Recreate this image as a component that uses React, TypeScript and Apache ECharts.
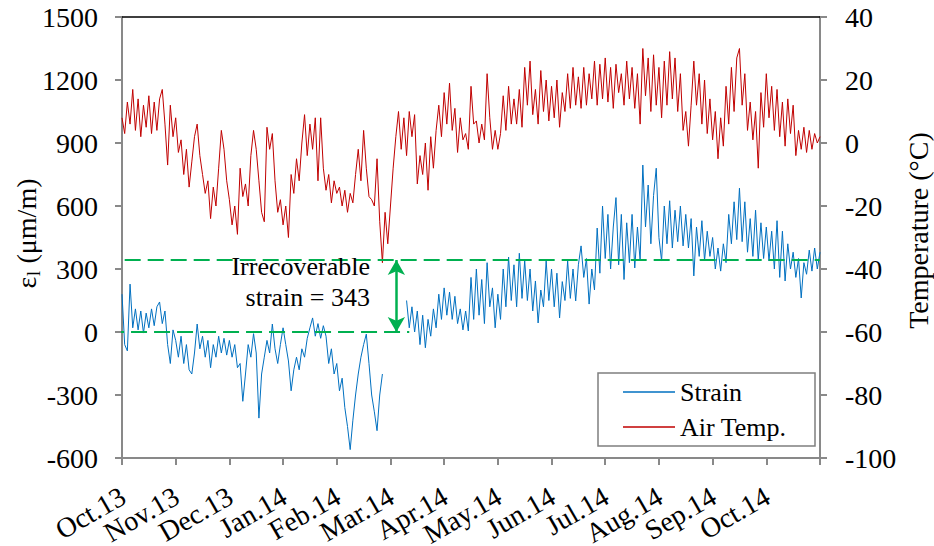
import React, { useEffect, useRef } from "react";
import * as echarts from "echarts";

// Month tick labels (one per month, x axis in months since Oct 2013)
const MONTHS = ["Oct.13", "Nov.13", "Dec.13", "Jan.14", "Feb.14", "Mar.14", "Apr.14", "May.14", "Jun.14", "Jul.14", "Aug.14", "Sep.14", "Oct.14"];
// Tick labels of the two value axes
const LEFT_TICKS = [-600, -300, 0, 300, 600, 900, 1200, 1500];
const RIGHT_TICKS = [-100, -80, -60, -40, -20, 0, 20, 40];
// Sampling step of the series (months)
const STEP = 0.05;

// Air temperature (°C)
const TEMP = [
  8, 3, 13, 6, 17, 4, 14, 2, 12, 5, 15, 3, 13, 4, 14, 17, 6, -7, 12, 2,
  8, -3, 1, -10, -2, -14, -6, 2, 6, -4, -10, -16, -12, -24, -14, -20, -8, 4, -2, -12,
  -18, -26, -20, -29, -8, -17, -13, -20, -4, 4, -2, -12, -22, -25, 5, -2, 3, -12, -22, -18,
  -26, -20, -30, -10, -16, -5, -12, 0, 9, -4, 6, -2, 8, -12, 8, -8, -15, -10, -19, -12,
  -16, -14, -20, -15, -22, -16, -19, -10, -2, -12, 4, -8, -17, -18, -20, -5, -25, -38, -22, -32,
  -20, -8, 2, 10, -2, 8, -4, 10, 2, 9, -13, -4, -10, 0, -15, 2, -8, 4, 12, 2,
  16, 6, 19, 4, 11, -3, 8, 1, 3, -2, 18, 6, 7, 0, 6, 1, 22, 8, -2, 4,
  -2, 3, 15, 4, 18, 6, 14, 6, 17, 5, 24, 12, 26, 9, 17, 6, 23, 10, 20, 7,
  18, 8, 20, 5, 16, 10, 22, 11, 24, 12, 21, 11, 24, 12, 22, 14, 26, 12, 25, 14,
  27, 13, 24, 11, 25, 16, 22, 12, 26, 14, 24, 11, 22, 6, 30, 15, 27, 10, 28, 12,
  24, 8, 26, 12, 29, 14, 27, 10, 22, 4, 10, -1, 12, 26, 12, 22, 6, 20, 3, 14,
  1, 10, -5, 8, -1, 18, 6, 24, 10, 27, 30, 12, 22, 4, 13, 1, 10, -8, 16, 5,
  22, 8, 18, 4, 17, 2, 13, -1, 14, 3, 12, -4, 4, -2, 5, -3, 4, -2, 3, 0, 2,
];

// Strain (µm/m); null = no data
const STRAIN = [
  180, -60, -90, 228, 20, 110, 10, 100, -5, 90, 20, 110, 30, 120, 143, 40, 100, -60, -150, 10,
  -40, -120, -20, -150, -60, -180, -200, -100, 38, -80, -20, -120, -40, -170, -60, -120, -20, -100, -30, -110,
  -40, -120, -60, -170, -150, -330, -200, -60, -120, -8, -100, -410, -200, -120, -40, -100, 38, -80, -150, -60,
  20, -60, -138, -280, -180, -120, -180, -80, -120, -30, 20, 67, -20, 40, -30, 30, -20, -150, -80, -200,
  -150, -280, -220, -360, -450, -560, -420, -300, -200, -120, -60, -10, -150, -300, -380, -470, -300, -200, null, null,
  null, null, null, null, null, null, 150, 20, 120, 0, 100, -60, 80, -75, 60, -20, 110, 20, 180, 60,
  210, 80, 190, 60, 170, 40, 110, 10, 100, 5, 260, 60, 300, 80, 250, 40, 330, 120, 210, 20,
  180, 60, 300, 120, 357, 150, 320, 120, 375, 160, 340, 150, 300, 100, 243, 43, 200, 120, 338, 150,
  300, 120, 280, 67, 240, 150, 338, 160, 300, 148, 320, 410, 260, 350, 133, 300, 200, 495, 280, 600,
  350, 560, 300, 500, 640, 320, 560, 250, 520, 330, 560, 305, 500, 340, 795, 500, 700, 420, 650, 780,
  450, 338, 600, 420, 625, 400, 580, 430, 600, 410, 560, 400, 540, 267, 500, 360, 530, 340, 480, 360,
  450, 300, 400, 290, 420, 330, 560, 420, 620, 440, 685, 430, 620, 380, 540, 360, 580, 340, 520, 350,
  500, 338, 480, 300, 530, 260, 480, 243, 420, 300, 380, 260, 350, 162, 330, 275, 390, 290, 400, 300, 380,
];

// Annotation values
const IRRECOVERABLE = 343;
const ZERO_LINE_X = [-0.26, 5.35];
const IRR_LINE_X = [0.05, 13];
const ARROW_X = 5.11;

const GREEN = "#00B050";
const GREY = "#898989";
const BLUE = "#0070C0";
const RED = "#C00000";
const F = (s: number) => s + "px Liberation Serif";

export default function App() {
  const ref = useRef<HTMLDivElement>(null);
  useEffect(() => {
    if (!ref.current) return;
    const chart = echarts.init(ref.current, undefined, { renderer: "svg" });
    const tempData = TEMP.map((v, i) => [i * STEP, v]);
    const strainData = STRAIN.map((v, i) => [i * STEP, v]);
    chart.setOption({
      animation: false,
      grid: { left: 122, right: 114, top: 17, bottom: 88, outerBoundsMode: "none" },
      xAxis: [
        {
          type: "value",
          min: 0,
          max: 13,
          interval: 1,
          position: "bottom",
          axisLine: { show: true, onZero: false, lineStyle: { color: GREY, width: 2 } },
          axisTick: { show: true, length: 7, lineStyle: { color: GREY, width: 2 } },
          splitLine: { show: false },
          axisLabel: { show: false },
        },
        {
          type: "value",
          min: 0,
          max: 13,
          position: "top",
          axisLine: { show: true, onZero: false, lineStyle: { color: "#000", width: 1.5 } },
          axisTick: { show: false },
          axisLabel: { show: false },
          splitLine: { show: false },
        },
      ],
      yAxis: [
        {
          type: "value",
          min: -600,
          max: 1500,
          interval: 300,
          position: "left",
          axisLine: { show: true, onZero: false, lineStyle: { color: GREY, width: 2 } },
          axisTick: { show: true, length: 7, lineStyle: { color: GREY, width: 2 } },
          splitLine: { show: false },
          axisLabel: { show: false },
        },
        {
          type: "value",
          min: -100,
          max: 40,
          interval: 20,
          position: "right",
          axisLine: { show: true, onZero: false, lineStyle: { color: GREY, width: 2 } },
          axisTick: { show: true, length: 7, lineStyle: { color: GREY, width: 2 } },
          splitLine: { show: false },
          axisLabel: { show: false },
        },
      ],
      series: [
        {
          name: "Air Temp.",
          type: "line",
          xAxisIndex: 0,
          yAxisIndex: 1,
          data: tempData,
          showSymbol: false,
          symbol: "none",
          lineStyle: { color: RED, width: 1 },
          itemStyle: { color: RED },
        },
        {
          name: "Strain",
          type: "line",
          xAxisIndex: 0,
          yAxisIndex: 0,
          data: strainData,
          showSymbol: false,
          symbol: "none",
          connectNulls: false,
          lineStyle: { color: BLUE, width: 1 },
          itemStyle: { color: BLUE },
        },
        {
          name: "zero",
          type: "line",
          xAxisIndex: 0,
          yAxisIndex: 0,
          clip: false,
          silent: true,
          symbol: "none",
          data: [[ZERO_LINE_X[0], 0], [ZERO_LINE_X[1], 0]],
          lineStyle: { color: GREEN, width: 2, type: [16, 7] },
          z: 3,
        },
        {
          name: "irrecoverable",
          type: "line",
          xAxisIndex: 0,
          yAxisIndex: 0,
          clip: false,
          silent: true,
          symbol: "none",
          data: [[IRR_LINE_X[0], IRRECOVERABLE], [IRR_LINE_X[1], IRRECOVERABLE]],
          lineStyle: { color: GREEN, width: 2, type: [16, 7] },
          z: 3,
          markLine: {
            silent: true,
            symbol: ["arrow", "arrow"],
            symbolSize: [13, 15],
            label: { show: false },
            lineStyle: { color: GREEN, width: 2.5, type: "solid" },
            data: [[{ coord: [ARROW_X, IRRECOVERABLE] }, { coord: [ARROW_X, 0] }]],
          },
        },
      ],
    });

    // Positions from the library's own scales (fallback: same linear mapping)
    const conv = (seriesIndex: number, pt: number[]) => {
      try {
        const p = chart.convertToPixel({ seriesIndex }, pt) as any;
        if (Array.isArray(p) && isFinite(p[0]) && isFinite(p[1])) return p as number[];
      } catch (e) {}
      return null;
    };
    const px = (m: number) => { const p = conv(1, [m, 0]); return p ? p[0] : 122 + (m / 13) * 698; };
    const pyL = (v: number) => { const p = conv(1, [0, v]); return p ? p[1] : 17 + ((1500 - v) / 2100) * 441; };
    const pyR = (v: number) => { const p = conv(0, [0, v]); return p ? p[1] : 17 + ((40 - v) / 140) * 441; };

    const x0 = px(0);
    const x13 = px(13);
    const yBottom = pyL(-600);
    const yTop = pyL(1500);
    const yMid = (yTop + yBottom) / 2;

    const tstyle = (text: string, size: number, align: string) => ({
      text,
      font: F(size),
      fill: "#000",
      align,
      verticalAlign: "middle",
      lineHeight: size + 4,
    });

    const txt = (x: number, y: number, text: string, size: number, align: string, extra: any = {}) => ({
      type: "text",
      x,
      y,
      silent: true,
      z: 100,
      ...extra,
      style: tstyle(text, size, align),
    });

    const legendItems = [
      { name: "Strain", color: BLUE, y: 392 },
      { name: "Air Temp.", color: RED, y: 427 },
    ];

    const graphic: any[] = [
      ...LEFT_TICKS.map((v) => txt(x0 - 24, pyL(v), String(v), 28, "right")),
      ...RIGHT_TICKS.map((v) => txt(x13 + 25, pyR(v), String(v), 28, "left")),
      ...MONTHS.map((t, i) => txt(px(i) + 1, yBottom + 36, t, 28, "right", { rotation: Math.PI / 6 })),
      {
        type: "group",
        x: 26,
        y: yMid - 5,
        rotation: Math.PI / 2,
        silent: true,
        z: 100,
        children: [
          { type: "text", x: -56, y: 0, style: tstyle("ε", 28, "left") },
          { type: "text", x: -43.5, y: 8, style: tstyle("l", 18, "left") },
          { type: "text", x: -38, y: 0, style: tstyle(" (μm/m)", 28, "left") },
        ],
      },
      txt(918, yMid - 7, "Temperature (°C)", 28, "center", { rotation: Math.PI / 2 }),
      {
        type: "rect",
        silent: true,
        z: 99,
        shape: { x: 598, y: 373, width: 217, height: 73 },
        style: { fill: "#fff", stroke: "#7f7f7f", lineWidth: 1.5 },
      },
      ...legendItems.map((it) => ({
        type: "line",
        silent: true,
        z: 100,
        shape: { x1: 623, y1: it.y, x2: 675, y2: it.y },
        style: { stroke: it.color, lineWidth: 1.5 },
      })),
      ...legendItems.map((it) => txt(680, it.y, it.name, 26, "left")),
      {
        type: "text",
        x: 370,
        y: 282,
        silent: true,
        z: 100,
        style: {
          text: "Irrecoverable\nstrain = " + IRRECOVERABLE,
          font: F(26),
          fill: "#000",
          align: "right",
          verticalAlign: "middle",
          lineHeight: 31,
        },
      },
    ];
    chart.setOption({ graphic });
    return () => chart.dispose();
  }, []);
  return <div ref={ref} style={{ position: "absolute", left: 0, top: 0, width: 934, height: 546 }} />;
}
